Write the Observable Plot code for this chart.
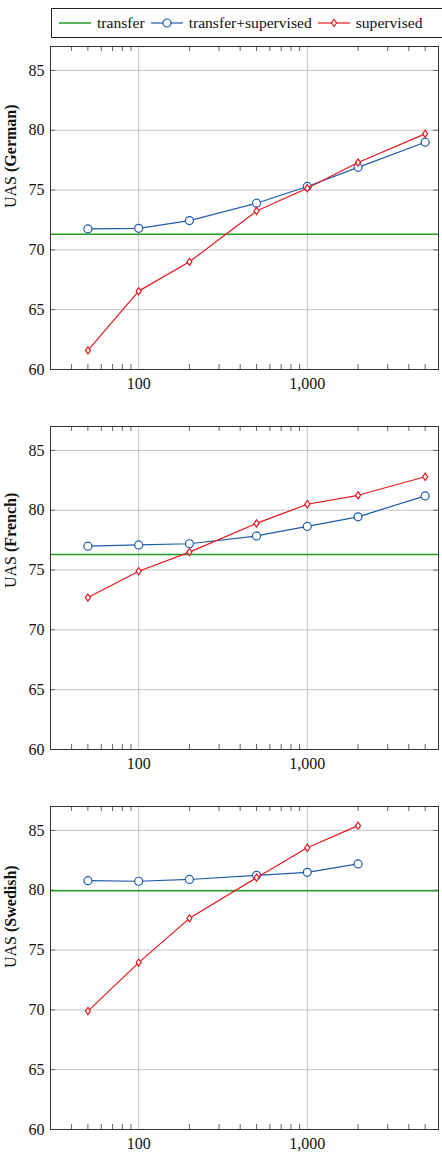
<!DOCTYPE html>
<html>
<head>
<meta charset="utf-8">
<script src="https://cdn.jsdelivr.net/npm/d3@7"></script>
<script src="https://cdn.jsdelivr.net/npm/@observablehq/plot@0.6"></script>
<style>
  html, body { margin: 0; padding: 0; overflow: hidden; background: #fff; }
  body { width: 442px; font-family: "Liberation Serif", serif; }
  #legendWrap { position: relative; height: 40px; }
  #legend { position: absolute; left: 51px; top: 8px; width: 384px; height: 28px;
    border: 1px solid #222; display: flex; align-items: center; padding-left: 7px;
    gap: 6px; font-size: 15.6px; color: #111; box-sizing: content-box; }
  #legend svg { display: block; }
  svg.plot { display: block; }
</style>
</head>
<body>
<div id="legendWrap"><div id="legend"></div></div>
<div id="charts"></div>
<script>
// ---- data ----
const sizes = [50, 100, 200, 500, 1000, 2000, 5000];
const seriesNames = ["transfer", "transfer+supervised", "supervised"];
const languages = ["German", "French", "Swedish"];

const germanTransfer = 71.3;
const germanTS = [71.75, 71.8, 72.45, 73.9, 75.3, 76.9, 79.0];
const germanSup = [61.6, 66.55, 69.0, 73.25, 75.15, 77.3, 79.7];

const frenchTransfer = 76.3;
const frenchTS = [77.0, 77.1, 77.2, 77.85, 78.65, 79.45, 81.2];
const frenchSup = [72.7, 74.9, 76.5, 78.9, 80.5, 81.25, 82.8];

const swedishTransfer = 79.95;
const swedishTS = [80.8, 80.75, 80.9, 81.25, 81.5, 82.2];
const swedishSup = [69.9, 73.95, 77.65, 81.05, 83.55, 85.4];

const yTicks = [60, 65, 70, 75, 80, 85];
const xMajorTicks = [100, 1000];
const xMinorTicks = [40, 50, 60, 70, 80, 90, 200, 300, 400, 500, 600, 700, 800, 900, 2000, 3000, 4000, 5000];

// ---- styles ----
const GREEN = "#1f9e1f";
const BLUE = "#1f5cab";
const RED = "#e8161c";
const colors = [GREEN, BLUE, RED];

const diamond = {
  draw(ctx, size) {
    const r = Math.sqrt(size / Math.PI);
    const h = r, w = r * 0.7;
    ctx.moveTo(0, -h); ctx.lineTo(w, 0); ctx.lineTo(0, h); ctx.lineTo(-w, 0); ctx.closePath();
  }
};

// ---- legend ----
const legend = d3.select("#legend");
seriesNames.forEach((name, i) => {
  const sw = legend.append("svg").attr("width", 32).attr("height", 12);
  sw.append("line").attr("x1", 0).attr("x2", 32).attr("y1", 6).attr("y2", 6)
    .attr("stroke", colors[i]).attr("stroke-width", i === 0 ? 1.5 : 1.2);
  if (i === 1) sw.append("circle").attr("cx", 16).attr("cy", 6).attr("r", 4)
    .attr("fill", "white").attr("stroke", BLUE).attr("stroke-width", 1.2);
  if (i === 2) sw.append("path").attr("d", "M16,2.5L18.5,6L16,9.5L13.5,6Z")
    .attr("fill", "white").attr("stroke", RED).attr("stroke-width", 1.2);
  legend.append("span").text(name);
});

// ---- panels ----
const PLOT_H = 323, PLOT_W = 388;
function panel(lang, transfer, ts, sup, totalHeight) {
  const tsData = ts.map((v, i) => ({x: sizes[i], y: v}));
  const supData = sup.map((v, i) => ({x: sizes[i], y: v}));
  const label = `UAS (${lang})`;
  const svg = Plot.plot({
    width: 442,
    height: totalHeight,
    marginTop: 6,
    marginLeft: 50,
    marginRight: 4,
    marginBottom: totalHeight - 6 - PLOT_H,
    style: {fontFamily: "Liberation Serif, serif", fontSize: "16px", color: "#111", background: "white"},
    x: {type: "log", domain: [30, 6000]},
    y: {domain: [60, 87]},
    marks: [
      Plot.gridY(yTicks, {stroke: "#c4c4c4", strokeOpacity: 1}),
      Plot.gridX(xMajorTicks, {stroke: "#c4c4c4", strokeOpacity: 1}),
      Plot.tickX(xMinorTicks, {x: d => d, insetTop: PLOT_H - 5, stroke: "#666"}),
      Plot.tickX(xMinorTicks, {x: d => d, insetBottom: PLOT_H - 5, stroke: "#666"}),
      Plot.tickY(yTicks, {y: d => d, insetRight: PLOT_W - 5, stroke: "#666"}),
      Plot.tickY(yTicks, {y: d => d, insetLeft: PLOT_W - 5, stroke: "#666"}),
      Plot.axisY(yTicks, {tickSize: 0, tickPadding: 6, label: null, tickFormat: d => d}),
      Plot.axisX(xMajorTicks, {tickSize: 0, tickPadding: 8, label: null, tickFormat: d3.format(",")}),
      Plot.ruleY([transfer], {stroke: GREEN, strokeWidth: 1.5}),
      Plot.line(tsData, {x: "x", y: "y", stroke: BLUE, strokeWidth: 1.2}),
      Plot.dot(tsData, {x: "x", y: "y", r: 4, symbol: "circle", stroke: BLUE, fill: "white", strokeWidth: 1.2}),
      Plot.line(supData, {x: "x", y: "y", stroke: RED, strokeWidth: 1.2}),
      Plot.dot(supData, {x: "x", y: "y", r: 3.6, symbol: diamond, stroke: RED, fill: "white", strokeWidth: 1.2}),
      Plot.frame({stroke: "#333", strokeWidth: 1}),
      Plot.text([label], {frameAnchor: "left", rotate: -90, dx: -40, text: d => d, fontSize: 16})
    ]
  });
  svg.classList.add("plot");
  // Make the language part of the axis label bold
  d3.select(svg).selectAll("text").filter(function() { return this.textContent === label; })
    .each(function() {
      const t = d3.select(this);
      t.text(null);
      t.append("tspan").text("UAS ");
      t.append("tspan").attr("font-weight", "bold").text(`(${lang})`);
    });
  document.getElementById("charts").appendChild(svg);
}

panel(languages[0], germanTransfer, germanTS, germanSup, 380);
panel(languages[1], frenchTransfer, frenchTS, frenchSup, 380);
panel(languages[2], swedishTransfer, swedishTS, swedishSup, 358);
</script>
</body>
</html>
